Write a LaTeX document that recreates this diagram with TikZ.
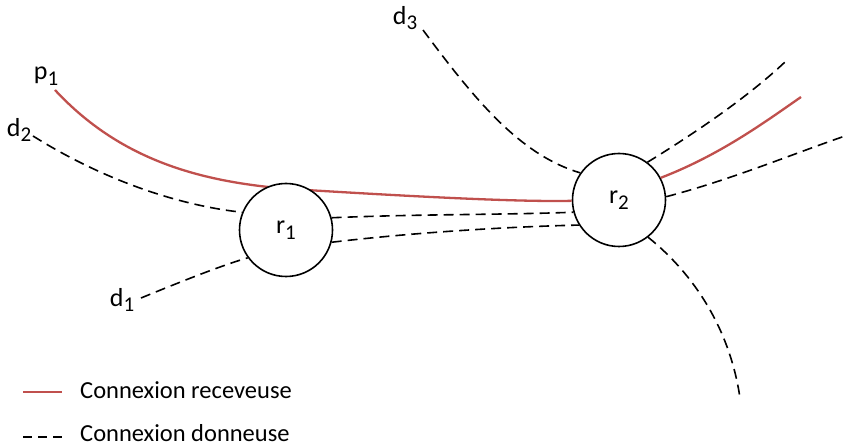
\documentclass[tikz,border=0pt]{standalone}
\usepackage{fontspec}
\setmainfont{Carlito}
\definecolor{recvred}{RGB}{192,80,77}
\newcommand{\lbl}[2]{#1\raisebox{-0.45ex}{\fontsize{21}{21}\selectfont #2}}
\tikzset{
  recv/.style={draw=recvred, line width=2.3pt},
  donn/.style={draw=black, line width=1.6pt, dash pattern=on 10pt off 6pt},
  router/.style={circle, draw, line width=1.6pt, fill=white, minimum size=93pt, inner sep=0pt},
  tag/.style={font=\fontsize{26}{28}\selectfont, inner sep=0pt},
  legtext/.style={font=\fontsize{24.5}{26}\selectfont, anchor=base west, inner sep=0pt}
}
\begin{document}
\begin{tikzpicture}[x=1pt,y=-1pt]
  \useasboundingbox (0,0) rectangle (846,446);

  % routeur r2
  \node[router] (r2) at (619,200) {};

  % extremites libres
  \coordinate (p1e) at (55,90);
  \coordinate (d2e) at (33,136);
  \coordinate (d1e) at (141,298);
  \coordinate (d3e) at (423,30);
  \coordinate (o1) at (785,62);
  \coordinate (o2) at (801,97);
  \coordinate (o3) at (845,136);
  \coordinate (o4) at (740,398);

  % connexion receveuse (passe sous r1)
  \draw[recv] (p1e) .. controls (120,160) and (200,182) .. (290,189)
                    .. controls (420,197) and (520,202) .. (r2.181);
  \node[router] (r1) at (286,230) {};
  \draw[recv] (r2.28) .. controls (720,155) and (765,122) .. (o2);

  % etiquettes
  \node[tag] (p1) at (46,76) {\lbl{p}{1}};
  \node[tag] (d2) at (19,130) {\lbl{d}{2}};
  \node[tag] (d1) at (122,300) {\lbl{d}{1}};
  \node[tag] (d3) at (405,18) {\lbl{d}{3}};
  \node[tag] (t1) at (r1) {\lbl{r}{1}};
  \node[tag] (t2) at (r2) {\lbl{r}{2}};

  % connexions donneuses
  \draw[donn] (d2e) .. controls (100,178) and (175,205) .. (r1.158);
  \draw[donn] (d1e) .. controls (180,282) and (220,266) .. (r1.216);
  \draw[donn] (r1.15) .. controls (420,214) and (500,215) .. (r2.195);
  \draw[donn] (r1.-15) .. controls (410,233) and (500,227) .. (r2.212);
  \draw[donn] (d3e) .. controls (475,100) and (520,155) .. (r2.145);
  \draw[donn] (r2.53) .. controls (700,130) and (750,95) .. (o1);
  \draw[donn] (r2.4) .. controls (730,180) and (790,155) .. (o3);
  \draw[donn] (r2.-52) .. controls (695,275) and (730,330) .. (o4);

  % legende
  \node[legtext] (lrecv) at (80,398) {Connexion receveuse};
  \node[legtext] (ldonn) at (80,441) {Connexion donneuse};
  \coordinate (lr0) at (23,392);
  \coordinate (ld0) at (23,437);
  \draw[recv] (lr0) -- ++(39,0);
  \draw[donn, dash pattern=on 9pt off 6pt] (ld0) -- ++(40,0);
\end{tikzpicture}
\end{document}
